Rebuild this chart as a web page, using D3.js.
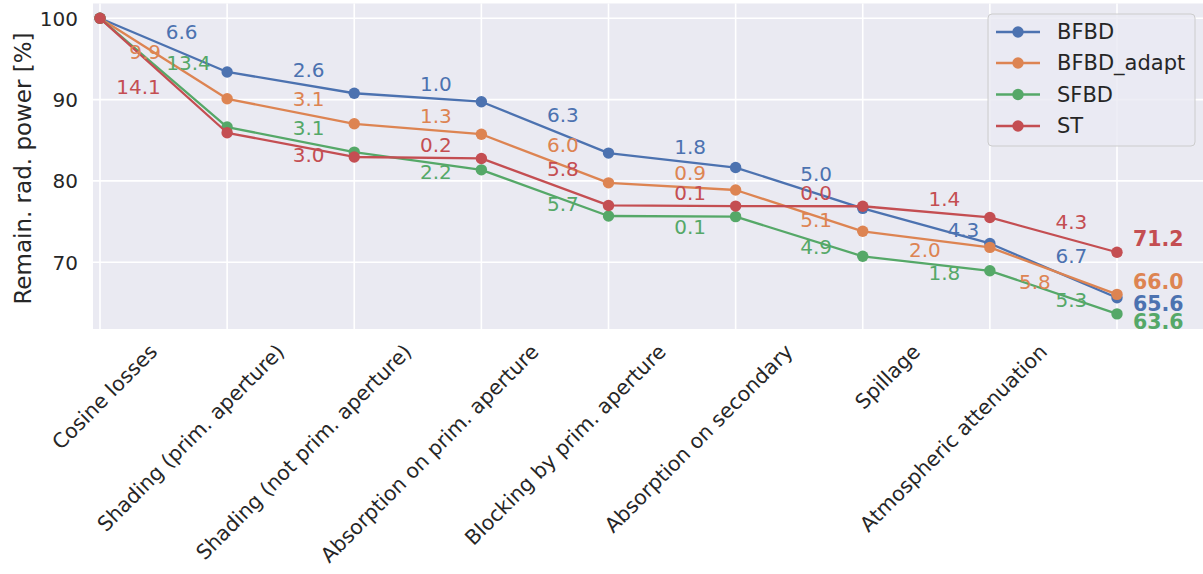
<!DOCTYPE html>
<html>
<head>
<meta charset="utf-8">
<script src="https://cdn.jsdelivr.net/npm/d3@7"></script>
<style>
  html, body { margin: 0; padding: 0; background: #ffffff; }
  svg { display: block; font-family: "DejaVu Sans", sans-serif; }
</style>
</head>
<body>
<svg id="chart" width="1203" height="574"></svg>
<script>
// Loss steps between consecutive stages (one label per segment)
const lossSteps = [
  "Cosine losses",
  "Shading (prim. aperture)",
  "Shading (not prim. aperture)",
  "Absorption on prim. aperture",
  "Blocking by prim. aperture",
  "Absorption on secondary",
  "Spillage",
  "Atmospheric attenuation"
];

// Remaining radiative power [%] after each stage
const seriesNames = ["BFBD", "BFBD_adapt", "SFBD", "ST"];
const bfbd      = [100, 93.40, 90.78, 89.74, 83.42, 81.64, 76.62, 72.30, 65.62];
const bfbdAdapt = [100, 90.10, 87.02, 85.74, 79.76, 78.88, 73.80, 71.82, 66.04];
const sfbd      = [100, 86.62, 83.54, 81.36, 75.68, 75.60, 70.72, 68.94, 63.64];
const st        = [100, 85.92, 82.94, 82.76, 76.98, 76.90, 76.88, 75.50, 71.22];

const yTicks = [70, 80, 90, 100];
const yLabel = "Remain. rad. power [%]";

// ---- styling / layout ----
const colors = ["#4C72B0", "#DD8452", "#55A868", "#C44E52"];
const textColor = "#262626";

// per-segment offsets [dx, dy] (px) of the loss annotations from the segment midpoint
const lossLabelOffsets = [
  [[18,-13.6],[18,-12.5],[18,-13],[18,-12.8],[18,-13.2],[17,-13.5],[37,4],[18,-14.3]],
  [[-18.5,-7],[18,-12.7],[18,-13],[18,-13.5],[18,-13.5],[17,9.5],[-1.5,11],[-18.5,11]],
  [[25,-9.5],[18,-11.8],[18,11.5],[18,11],[18,11],[17,10.4],[18,9.2],[18,8]],
  [[-25,11.5],[18,10.5],[18,-13],[18,-12.5],[18,-12.7],[17,-13],[18,-12.8],[18,-12.5]]
];
// vertical offset of the bold end-value labels
const endLabelDy = [6, -13, 8, -13];

const svg = d3.select("#chart");

const plot = { left: 93, top: 3.5, right: 1215, bottom: 329 };

const x = d3.scaleLinear().domain([0, 8]).range([100, 1117]);
const y = d3.scaleLinear().domain([61.78, 101.82]).range([plot.bottom, plot.top]);

const allSeries = [bfbd, bfbdAdapt, sfbd, st];

// background
svg.append("rect")
  .attr("x", plot.left).attr("y", plot.top)
  .attr("width", plot.right - plot.left).attr("height", plot.bottom - plot.top)
  .attr("fill", "#EAEAF2");

// grid
const stageIdx = d3.range(bfbd.length);
svg.append("g").selectAll("line").data(stageIdx).join("line")
  .attr("x1", d => x(d)).attr("x2", d => x(d))
  .attr("y1", plot.top).attr("y2", plot.bottom)
  .attr("stroke", "#ffffff").attr("stroke-width", 1.6);
svg.append("g").selectAll("line").data(yTicks).join("line")
  .attr("x1", plot.left).attr("x2", plot.right)
  .attr("y1", d => y(d)).attr("y2", d => y(d))
  .attr("stroke", "#ffffff").attr("stroke-width", 1.6);

// y axis tick labels
const yAxis = d3.axisLeft(y).tickValues(yTicks).tickSize(0).tickPadding(0).tickFormat(d3.format("d"));
const yAxisG = svg.append("g").attr("transform", "translate(78,0)").call(yAxis);
yAxisG.select(".domain").remove();
yAxisG.selectAll("text")
  .attr("fill", textColor).attr("font-size", 20)
  .attr("font-family", "DejaVu Sans, sans-serif")
  .attr("x", 0).attr("dy", "0.35em");

// y axis title
svg.append("text")
  .attr("transform", "translate(31,168.5) rotate(-90)")
  .attr("text-anchor", "middle")
  .attr("font-size", 23)
  .attr("fill", textColor)
  .text(yLabel);

// x tick labels, placed between stages and rotated 45°
const xAxis = d3.axisBottom(x)
  .tickValues(lossSteps.map((_, i) => i + 0.5))
  .tickSize(0).tickPadding(0)
  .tickFormat((d, i) => lossSteps[i]);
const xAxisG = svg.append("g").attr("transform", `translate(0,${plot.bottom})`).call(xAxis);
xAxisG.select(".domain").remove();
xAxisG.selectAll("text")
  .attr("fill", textColor).attr("font-size", 20.5)
  .attr("font-family", "DejaVu Sans, sans-serif")
  .attr("text-anchor", "end")
  .attr("y", 0).attr("dy", 0)
  .attr("transform", "translate(-5.5,24) rotate(-45)");

// lines and markers
const line = d3.line().x((d, i) => x(i)).y(d => y(d));
allSeries.forEach((vals, s) => {
  const g = svg.append("g");
  g.append("path").datum(vals)
    .attr("d", line)
    .attr("fill", "none")
    .attr("stroke", colors[s])
    .attr("stroke-width", 2.3)
    .attr("stroke-linejoin", "round");
  g.selectAll("circle").data(vals).join("circle")
    .attr("cx", (d, i) => x(i)).attr("cy", d => y(d))
    .attr("r", 5.7).attr("fill", colors[s]);
});

// loss annotations per segment
allSeries.forEach((vals, s) => {
  const segs = d3.range(vals.length - 1).map(i => ({
    i, loss: vals[i] - vals[i + 1], mid: (vals[i] + vals[i + 1]) / 2
  }));
  svg.append("g").selectAll("text").data(segs).join("text")
    .attr("x", d => x(d.i + 0.5) + lossLabelOffsets[s][d.i][0])
    .attr("y", d => y(d.mid) + lossLabelOffsets[s][d.i][1])
    .attr("dy", "0.35em")
    .attr("text-anchor", "middle")
    .attr("font-size", 20)
    .attr("fill", colors[s])
    .text(d => d.loss.toFixed(1));
});

// final values
allSeries.forEach((vals, s) => {
  const last = vals.length - 1;
  svg.append("text")
    .attr("x", x(last) + 16)
    .attr("y", y(vals[last]) + endLabelDy[s])
    .attr("dy", "0.35em")
    .attr("font-size", 20.5)
    .attr("font-weight", "bold")
    .attr("fill", colors[s])
    .text(vals[last].toFixed(1));
});

// legend
const lg = svg.append("g").attr("transform", "translate(988,14)");
lg.append("rect")
  .attr("width", 207).attr("height", 132).attr("rx", 4)
  .attr("fill", "#EAEAF2").attr("fill-opacity", 0.8)
  .attr("stroke", "#CCCCCC").attr("stroke-width", 1);
const rowY = [18, 49, 80.5, 112];
seriesNames.forEach((name, s) => {
  const row = lg.append("g").attr("transform", `translate(0,${rowY[s]})`);
  row.append("line").attr("x1", 8).attr("x2", 52).attr("y1", 0).attr("y2", 0)
    .attr("stroke", colors[s]).attr("stroke-width", 2.3);
  row.append("circle").attr("cx", 30).attr("cy", 0).attr("r", 5.7).attr("fill", colors[s]);
  row.append("text").attr("x", 69).attr("y", 0).attr("dy", "0.35em")
    .attr("font-size", 21).attr("fill", textColor).text(name);
});
</script>
</body>
</html>
